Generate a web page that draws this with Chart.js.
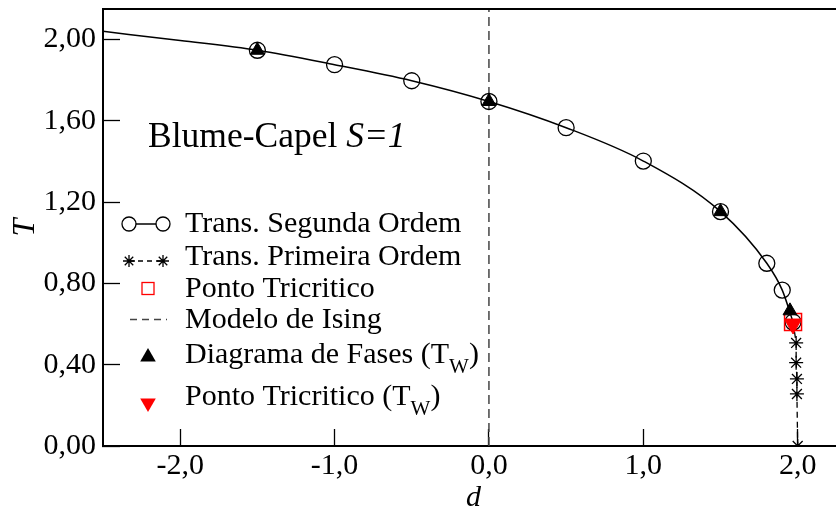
<!DOCTYPE html>
<html>
<head>
<meta charset="utf-8">
<script src="https://cdn.jsdelivr.net/npm/chart.js@4"></script>
<style>
  html, body { margin: 0; padding: 0; background: #fff; overflow: hidden; }
  #wrap { width: 860px; height: 511px; position: relative; }
</style>
</head>
<body>
<div id="wrap"><canvas id="chart"></canvas></div>
<script>
// Trans. Segunda Ordem (solid line, open circles)
const d2 = [-2.5, -2.0, -1.5, -1.0, -0.5, 0.0, 0.5, 1.0, 1.5, 1.8, 1.9, 1.97];
const T2 = [2.04, 1.995, 1.947, 1.876, 1.797, 1.695, 1.566, 1.402, 1.153, 0.899, 0.767, 0.61];
const r2 = [0, 0, 8, 8, 8, 8, 8, 8, 8, 8, 8, 8];
// Trans. Primeira Ordem (dashed line, stars)
const d1 = [1.97, 1.99, 1.99, 1.995, 1.995, 2.0];
const T1 = [0.61, 0.507, 0.41, 0.33, 0.256, 0.0];
const r1 = [0, 7, 7, 7, 7, 7];
// Ponto Tricritico
const dTri = [1.97];
const TTri = [0.61];
// Modelo de Ising
const dIsing = [0.0, 0.0];
const TIsing = [0.0, 2.15];
// Diagrama de Fases (T_W)
const dTw = [-1.5, 0.0, 1.5, 1.95];
const TTw = [1.947, 1.695, 1.153, 0.665];
// Ponto Tricritico (T_W)
const dTriTw = [1.97];
const TTriTw = [0.60];

const xTicks = [-2.0, -1.0, 0.0, 1.0, 2.0];
const yTicks = [0.0, 0.4, 0.8, 1.2, 1.6, 2.0];

const legendLabels = [
  "Trans. Segunda Ordem",
  "Trans. Primeira Ordem",
  "Ponto Tricritico",
  "Modelo de Ising",
  "Diagrama de Fases (T_W)",
  "Ponto Tricritico (T_W)"
];

const serif = "'Liberation Serif', 'Times New Roman', serif";
const toPts = (xs, ys) => xs.map((x, i) => ({ x: x, y: ys[i] }));

function drawTri(ctx, x, y, r, down) {
  const s = down ? -1 : 1;
  ctx.beginPath();
  ctx.moveTo(x, y - s * r);
  ctx.lineTo(x + r * 0.866, y + s * r * 0.5);
  ctx.lineTo(x - r * 0.866, y + s * r * 0.5);
  ctx.closePath();
  ctx.fill();
}
function drawStar(ctx, x, y, r) {
  ctx.beginPath();
  ctx.moveTo(x - r, y); ctx.lineTo(x + r, y);
  ctx.moveTo(x, y - r); ctx.lineTo(x, y + r);
  const k = r * 0.7071;
  ctx.moveTo(x - k, y - k); ctx.lineTo(x + k, y + k);
  ctx.moveTo(x - k, y + k); ctx.lineTo(x + k, y - k);
  ctx.stroke();
}
function drawRich(ctx, str, x, y) {
  const m = str.match(/^(.*)_(\w)(.*)$/);
  ctx.font = '30px ' + serif;
  if (!m) { ctx.fillText(str, x, y); return; }
  ctx.fillText(m[1], x, y);
  x += ctx.measureText(m[1]).width;
  ctx.font = '21px ' + serif;
  ctx.fillText(m[2], x, y + 10);
  x += ctx.measureText(m[2]).width;
  ctx.font = '30px ' + serif;
  ctx.fillText(m[3], x, y);
}

const extras = {
  id: 'extras',
  afterDraw(chart) {
    const { ctx, chartArea: a } = chart;
    ctx.save();
    // frame top / right
    ctx.strokeStyle = '#000';
    ctx.lineWidth = 2;
    ctx.beginPath();
    ctx.moveTo(a.left, a.top);
    ctx.lineTo(a.right, a.top);
    ctx.lineTo(a.right, a.bottom);
    ctx.stroke();

    // annotation
    ctx.fillStyle = '#000';
    ctx.textBaseline = 'alphabetic';
    ctx.textAlign = 'left';
    ctx.font = '35.5px ' + serif;
    const t1 = 'Blume-Capel ';
    ctx.fillText(t1, 148, 147);
    const w1 = ctx.measureText(t1).width;
    ctx.font = 'italic 35.5px ' + serif;
    ctx.fillText('S=1', 148 + w1, 147);

    // legend
    const sx = 129, ex = 163, mx = 148, tx = 185;
    const rows = [224, 261, 288.5, 319.5, 357, 403];
    const bases = [232, 265, 297, 328, 363, 405];
    ctx.lineWidth = 1.3;
    // circles + line
    ctx.strokeStyle = '#000';
    ctx.beginPath(); ctx.moveTo(sx, rows[0]); ctx.lineTo(ex, rows[0]); ctx.stroke();
    ctx.fillStyle = '#fff';
    [sx, ex].forEach(x => { ctx.beginPath(); ctx.arc(x, rows[0], 7, 0, Math.PI * 2); ctx.fill(); ctx.stroke(); });
    // stars + dashed
    ctx.setLineDash([5, 4]);
    ctx.beginPath(); ctx.moveTo(sx, rows[1]); ctx.lineTo(ex, rows[1]); ctx.stroke();
    ctx.setLineDash([]);
    drawStar(ctx, sx, rows[1], 6);
    drawStar(ctx, ex, rows[1], 6);
    // red square
    ctx.strokeStyle = '#ff0000';
    ctx.strokeRect(mx - 6, rows[2] - 6, 12, 12);
    // ising dashed
    ctx.strokeStyle = '#444';
    ctx.setLineDash([7, 5]);
    ctx.beginPath(); ctx.moveTo(130, rows[3]); ctx.lineTo(167, rows[3]); ctx.stroke();
    ctx.setLineDash([]);
    // triangles
    ctx.fillStyle = '#000';
    drawTri(ctx, mx, rows[4], 9, false);
    ctx.fillStyle = '#ff0000';
    drawTri(ctx, mx, rows[5], 9, true);
    // texts
    ctx.fillStyle = '#000';
    legendLabels.forEach((s, i) => drawRich(ctx, s, tx, bases[i]));
    ctx.restore();
  }
};

const fmtX = v => v.toFixed(1).replace('.', ',');
const fmtY = v => v.toFixed(2).replace('.', ',');

new Chart(document.getElementById('chart'), {
  type: 'scatter',
  data: {
    datasets: [
      { label: legendLabels[5], data: toPts(dTriTw, TTriTw), order: 1,
        pointStyle: 'triangle', rotation: 180, pointRadius: 10,
        backgroundColor: '#ff0000', borderColor: '#ff0000', borderWidth: 1 },
      { label: legendLabels[4], data: toPts(dTw, TTw), order: 2,
        pointStyle: 'triangle', pointRadius: 8,
        backgroundColor: '#000', borderColor: '#000', borderWidth: 1 },
      { label: legendLabels[2], data: toPts(dTri, TTri), order: 3,
        pointStyle: 'rect', pointRadius: 12,
        backgroundColor: 'rgba(0,0,0,0)', borderColor: '#ff0000', borderWidth: 1.5 },
      { label: legendLabels[1], data: toPts(d1, T1), order: 4, showLine: true,
        borderColor: '#000', borderWidth: 1.3, borderDash: [6, 4],
        pointStyle: 'star', pointRadius: r1, pointBorderWidth: 1.3,
        pointBorderColor: '#000', backgroundColor: '#000' },
      { label: legendLabels[0], data: toPts(d2, T2), order: 5, showLine: true,
        cubicInterpolationMode: 'monotone',
        borderColor: '#000', borderWidth: 1.5,
        pointStyle: 'circle', pointRadius: r2, pointBorderWidth: 1.3,
        pointBorderColor: '#000', pointBackgroundColor: 'rgba(0,0,0,0)' },
      { label: legendLabels[3], data: toPts(dIsing, TIsing), order: 6, showLine: true,
        borderColor: '#444', borderWidth: 1.5, borderDash: [9, 5], pointRadius: 0 }
    ]
  },
  options: {
    responsive: true,
    maintainAspectRatio: false,
    animation: false,
    layout: { autoPadding: false, padding: { top: 9, right: 16, bottom: 0, left: 0 } },
    plugins: { legend: { display: false }, tooltip: { enabled: false } },
    elements: { point: { hoverRadius: 0 } },
    scales: {
      x: {
        type: 'linear', min: -2.5, max: 2.3,
        afterBuildTicks: s => { s.ticks = xTicks.map(v => ({ value: v })); },
        afterFit: s => { s.height = 65; s.paddingLeft = 0; s.paddingRight = 0; },
        ticks: { color: '#000', padding: 19, maxRotation: 0, font: { family: serif, size: 30 }, callback: v => fmtX(v) },
        grid: { drawOnChartArea: false, tickLength: -17, tickColor: '#000', tickWidth: 1.3 },
        border: { display: true, color: '#000', width: 2 },
        title: { display: true, text: 'd', color: '#000', padding: { top: 0, bottom: 1 },
                 font: { family: serif, size: 30, style: 'italic', lineHeight: 0.8 } }
      },
      y: {
        type: 'linear', min: 0, max: 2.15,
        afterBuildTicks: s => { s.ticks = yTicks.map(v => ({ value: v })); },
        afterFit: s => { s.width = 103; s.paddingTop = 0; s.paddingBottom = 0; },
        ticks: { color: '#000', padding: 24, font: { family: serif, size: 30 }, callback: v => fmtY(v) },
        grid: { drawOnChartArea: false, tickLength: -17, tickColor: '#000', tickWidth: 1.3 },
        border: { display: true, color: '#000', width: 2 },
        title: { display: true, text: 'T', color: '#000', padding: { top: 10, bottom: 0 },
                 font: { family: serif, size: 32, style: 'italic', lineHeight: 1 } }
      }
    }
  },
  plugins: [extras]
});
</script>
</body>
</html>
